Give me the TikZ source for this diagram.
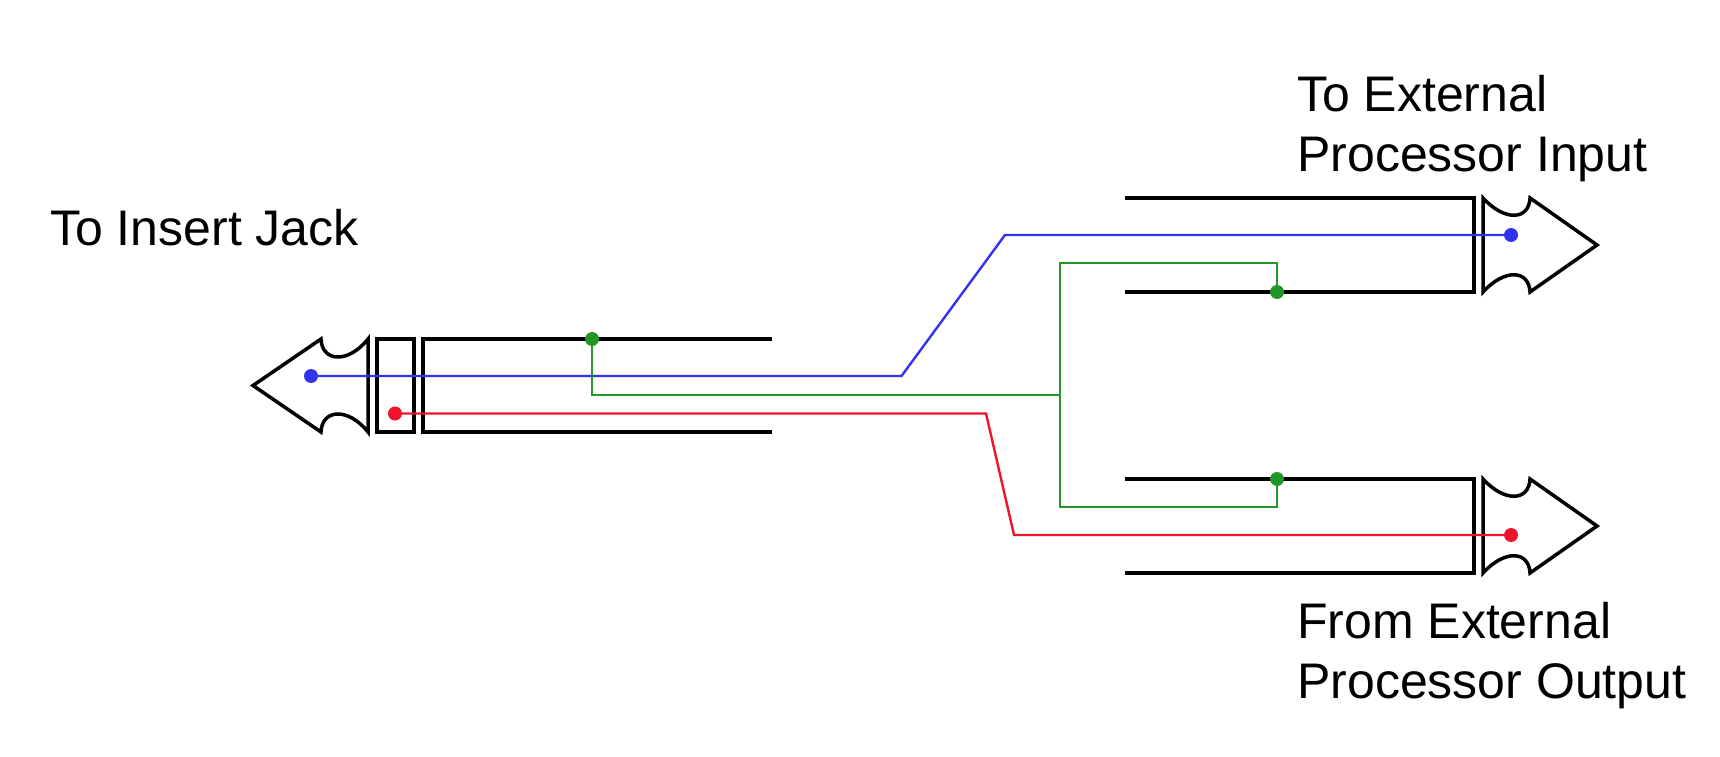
\documentclass[tikz,border=0pt]{standalone}
\usepackage{fontspec}
\setmainfont{Liberation Sans}
\usepackage{tikz}
\usetikzlibrary{positioning}
\definecolor{tipblue}{RGB}{50,50,240}
\definecolor{ringred}{RGB}{238,20,45}
\definecolor{sleevegreen}{RGB}{35,150,40}

\tikzset{
  plugline/.style={line width=3.5pt,black,line join=miter},
  wire/.style={line width=2.4pt,line join=miter},
  solder/.style={circle,fill=#1,inner sep=0pt,minimum size=14pt},
  plugtext/.style={anchor=base west,inner sep=0pt,align=left,font=\fontsize{50}{59.5}\selectfont}
}

\begin{document}
\begin{tikzpicture}[x=1pt,y=-1pt]
\useasboundingbox (0,0) rectangle (1720,757);
\draw[plugline] (368,339) -- (368,432) .. controls (348,407) and (322,409) .. (321,432) -- (253,385.5) -- (321,339) .. controls (322,362) and (348,364) .. (368,339) -- cycle;
\draw[plugline] (377,339) rectangle (414,432);
\draw[plugline] (772,339) -- (423,339) -- (423,432) -- (772,432);
\draw[plugline] (1125,198) -- (1474,198) -- (1474,292) -- (1125,292);
\draw[plugline] (1483,198) -- (1483,292) .. controls (1505,268) and (1529,270) .. (1530,292) -- (1597,245) -- (1530,198) .. controls (1529,220) and (1505,222) .. (1483,198) -- cycle;
\draw[plugline] (1125,479) -- (1474,479) -- (1474,573) -- (1125,573);
\draw[plugline] (1483,479) -- (1483,573) .. controls (1505,549) and (1529,551) .. (1530,573) -- (1597,526) -- (1530,479) .. controls (1529,501) and (1505,503) .. (1483,479) -- cycle;
\node[solder=tipblue] (tip-jack) at (311,376) {};
\node[solder=tipblue] (tip-in) at (1511,235) {};
\node[solder=ringred] (ring-jack) at (395,413.5) {};
\node[solder=ringred] (ring-out) at (1511,535) {};
\node[solder=sleevegreen] (sleeve-jack) at (592,339) {};
\node[solder=sleevegreen] (sleeve-in) at (1277,292) {};
\node[solder=sleevegreen] (sleeve-out) at (1277,479) {};
\coordinate (sleeve-split) at (1060,395);
\draw[wire,tipblue] (tip-jack.center) -- (901.5,376) -- (1005,235) -- (tip-in.center);
\draw[wire,ringred] (ring-jack.center) -- (986,413.5) -- (1014,535) -- (ring-out.center);
\draw[wire,sleevegreen] (sleeve-jack.center) |- (sleeve-split);
\draw[wire,sleevegreen] (sleeve-in.center) |- (1060,263) -- (1060,507) -| (sleeve-out.center);
\node[plugtext] (jack-text) at (50,245) {To Insert Jack};
\node[plugtext] (in-text) at (1297,171) {To External\\Processor Input};
\node[plugtext] (out-text) at (1297,698) {From External\\Processor Output};
\end{tikzpicture}
\end{document}
